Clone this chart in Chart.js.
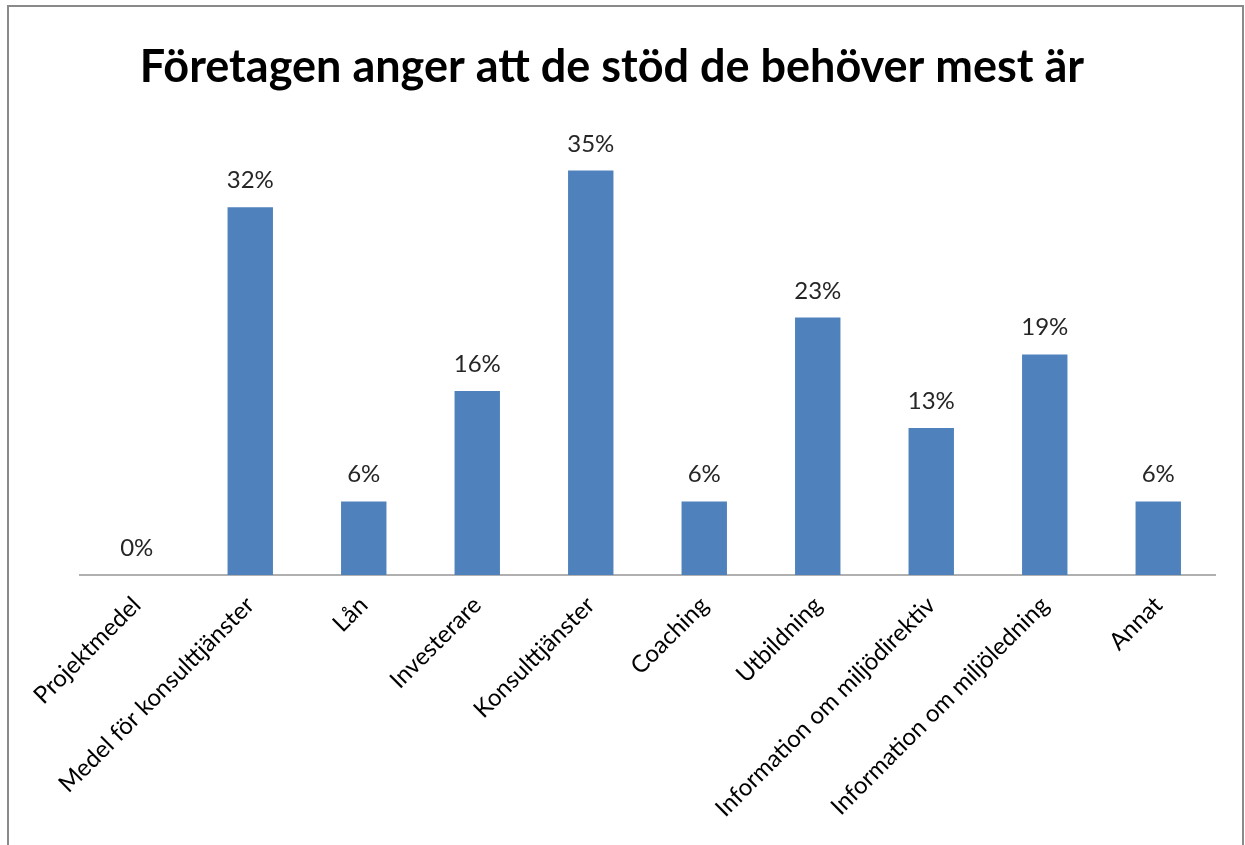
<!DOCTYPE html>
<html>
<head>
<meta charset="utf-8">
<script src="https://cdn.jsdelivr.net/npm/chart.js@4"></script>
<style>
    body { margin: 0; background: #fff; overflow: hidden; }
    #frame { position: absolute; left: 7px; top: 5px; width: 1237px; height: 900px; box-sizing: border-box; border: 2px solid #8a8a8a; border-bottom: none; }
    #wrap { position: absolute; left: 0; top: 0; width: 1245px; height: 845px; }
</style>
</head>
<body>
<div id="frame"></div>
<div id="wrap"><canvas id="chart"></canvas></div>
<script>
const titleText = 'Företagen anger att de stöd de behöver mest är';
const categories = ['Projektmedel', 'Medel för konsulttjänster', 'Lån', 'Investerare', 'Konsulttjänster', 'Coaching', 'Utbildning', 'Information om miljödirektiv', 'Information om miljöledning', 'Annat'];
const shares = [0, 32.26, 6.45, 16.13, 35.48, 6.45, 22.58, 12.9, 19.35, 6.45];

const fontFamily = 'Lato, "Open Sans", sans-serif';

// labels above each bar, placed from the bar elements
const barLabels = {
    id: 'barLabels',
    afterDatasetsDraw(chart) {
        const ctx = chart.ctx;
        const meta = chart.getDatasetMeta(0);
        ctx.save();
        ctx.font = `24px ${fontFamily}`;
        ctx.fillStyle = '#262626';
        ctx.textAlign = 'center';
        ctx.textBaseline = 'alphabetic';
        meta.data.forEach((bar, i) => {
            ctx.fillText(Math.round(shares[i]) + '%', bar.x, bar.y - 19);
        });
        ctx.restore();
    }
};

// invisible side axes only reserve room, so the title can sit off-centre like the original
const spacerAxis = (position, width) => ({
    position: position,
    display: true,
    min: 0,
    max: 40,
    grid: {display: false},
    border: {display: false},
    ticks: {display: false},
    afterFit(scale) { scale.width = width; }
});

new Chart(document.getElementById('chart'), {
    type: 'bar',
    data: {
        labels: categories,
        datasets: [{
            data: shares,
            backgroundColor: '#4F81BD',
            borderWidth: 0,
            barPercentage: 0.4,
            categoryPercentage: 1
        }]
    },
    options: {
        responsive: true,
        maintainAspectRatio: false,
        animation: false,
        layout: {padding: {left: 0, right: 21, top: 0, bottom: 0}},
        plugins: {
            legend: {display: false},
            tooltip: {enabled: false},
            title: {
                display: true,
                text: titleText,
                color: '#000',
                font: {family: fontFamily, size: 45, weight: 'bold'},
                padding: {top: 40, bottom: 25}
            }
        },
        scales: {
            x: {
                grid: {display: false},
                border: {display: true, color: '#b0b0b0', width: 2},
                ticks: {
                    color: '#000',
                    font: {family: fontFamily, size: 24},
                    minRotation: 45,
                    maxRotation: 45,
                    padding: 8,
                    autoSkip: false
                },
                afterFit(scale) { scale.height = 270; }
            },
            y: spacerAxis('left', 80),
            y2: spacerAxis('right', 9)
        }
    },
    plugins: [barLabels]
});
</script>
</body>
</html>
